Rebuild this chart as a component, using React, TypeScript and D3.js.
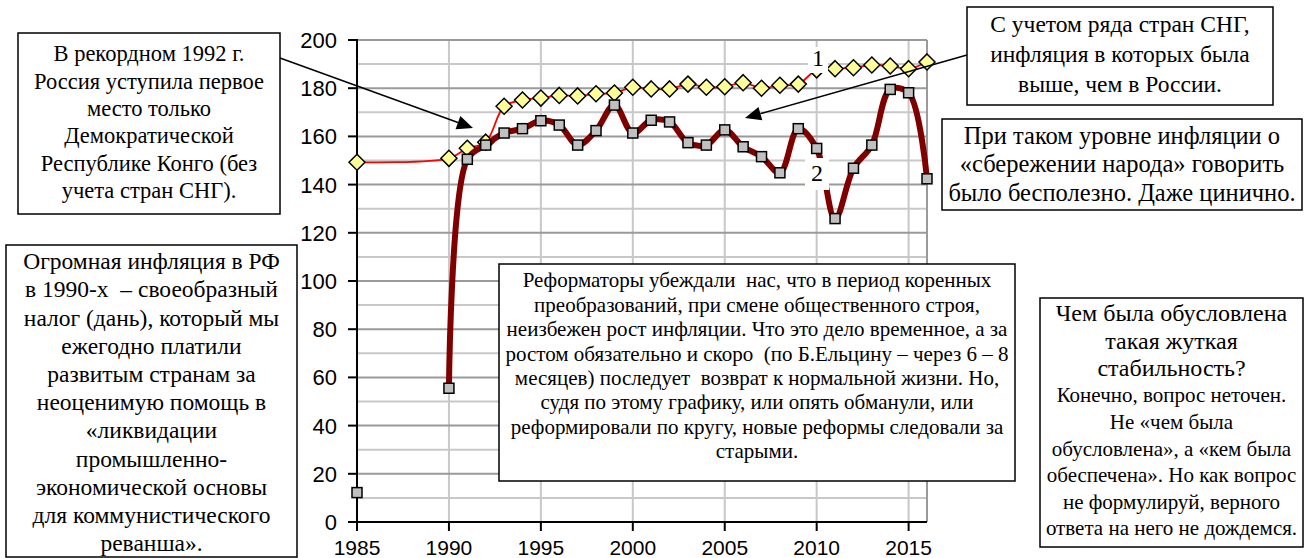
import React from 'react';
import * as d3 from 'd3';

// years on the x axis
const years1 = [1985, 1990, 1991, 1992, 1993, 1994, 1995, 1996, 1997, 1998, 1999, 2000, 2001, 2002, 2003, 2004, 2005, 2006, 2007, 2008, 2009, 2010, 2011, 2012, 2013, 2014, 2015, 2016];
// series 1 - place of Russia incl. CIS countries (yellow diamonds)
const series1 = [149.3, 150.9, 155.1, 157.6, 172.5, 175.1, 175.9, 177, 176.8, 177.7, 178, 180.4, 179.7, 179.7, 181.7, 180.4, 180.6, 182.3, 180, 181.2, 181.7, 187.6, 188.1, 188.5, 189.6, 189.2, 188.1, 190.9];
// series 2 - Russia (grey squares)
const years2 = years1;
const series2 = [12.2, 55.5, 150.5, 156.4, 161.4, 163.2, 166.5, 164.7, 156.4, 162.4, 173, 161.4, 166.7, 166, 157.4, 156.4, 162.7, 155.7, 151.6, 144.9, 163.2, 155, 125.9, 146.8, 156.4, 179.5, 178.1, 142.4];

const yTicks = [0, 20, 40, 60, 80, 100, 120, 140, 160, 180, 200];
const xTicks = [1985, 1990, 1995, 2000, 2005, 2010, 2015];

const noteA = ['В рекордном 1992 г.', 'Россия уступила первое', 'место только', 'Демократической', 'Республике Конго (без', 'учета стран СНГ).'];
const noteB = ['С учетом ряда стран СНГ,', 'инфляция в которых была', 'выше, чем в России.'];
const noteC = ['При таком уровне инфляции о', '«сбережении народа» говорить', 'было бесполезно. Даже цинично.'];
const noteD = [
  'Реформаторы убеждали  нас, что в период коренных',
  'преобразований, при смене общественного строя,',
  'неизбежен рост инфляции. Что это дело временное, а за',
  'ростом обязательно и скоро  (по Б.Ельцину – через 6 – 8',
  'месяцев) последует  возврат к нормальной жизни. Но,',
  'судя по этому графику, или опять обманули, или',
  'реформировали по кругу, новые реформы следовали за',
  'старыми.',
];
const noteE = ['Огромная инфляция в РФ', 'в 1990-х  – своеобразный', 'налог (дань), который мы', 'ежегодно платили', 'развитым странам за', 'неоценимую помощь в', '«ликвидации', 'промышленно-', 'экономической основы', 'для коммунистического', 'реванша».'];
const noteF1 = ['Чем была обусловлена', 'такая жуткая', 'стабильность?'];
const noteF2 = ['Конечно, вопрос неточен.', 'Не «чем была', 'обусловлена», а «кем была', 'обеспечена». Но как вопрос', 'не формулируй, верного', 'ответа на него не дождемся.'];

const W = 1305;
const H = 558;
const serif = "'Liberation Serif', 'Times New Roman', Times, Tinos, 'Noto Serif', 'DejaVu Serif', serif";
const sans = "'Liberation Sans', Arial, sans-serif";

const x = d3.scaleLinear().domain([1985, 2016]).range([357, 927]);
const y = d3.scaleLinear().domain([0, 200]).range([522, 40]);

type Line = { text: string; size: number; cy: number };

function Box({ bx, by, bw, bh, lines }: { bx: number; by: number; bw: number; bh: number; lines: Line[] }) {
  const cx = bx + bw / 2;
  return (
    <g>
      <rect x={bx} y={by} width={bw} height={bh} fill="#fff" stroke="#000" strokeWidth={1.5} />
      {lines.map((l, i) => (
        <text key={i} x={cx} y={l.cy + l.size * 0.35} textAnchor="middle" style={{ whiteSpace: 'pre', fontFamily: serif, fontSize: l.size }}>
          {l.text}
        </text>
      ))}
    </g>
  );
}

const stack = (arr: string[], first: number, step: number, size: number): Line[] =>
  arr.map((t, i) => ({ text: t, size, cy: first + i * step }));

function Arrow({ x1, y1, x2, y2 }: { x1: number; y1: number; x2: number; y2: number }) {
  const a = Math.atan2(y2 - y1, x2 - x1);
  const len = 16, half = 7;
  const bx = x2 - len * Math.cos(a), by = y2 - len * Math.sin(a);
  const p = [
    [x2, y2],
    [bx + half * Math.sin(a), by - half * Math.cos(a)],
    [bx - half * Math.sin(a), by + half * Math.cos(a)],
  ];
  return (
    <g>
      <line x1={x1} y1={y1} x2={bx} y2={by} stroke="#000" strokeWidth={1.5} />
      <polygon points={p.map((d) => d.join(',')).join(' ')} fill="#000" />
    </g>
  );
}

export default function App() {
  const line = d3.line<[number, number]>().x((d) => x(d[0])).y((d) => y(d[1])).curve(d3.curveCatmullRom.alpha(0.5));
  const pts1: [number, number][] = years1.map((yr, i) => [yr, series1[i]]);
  const pts2: [number, number][] = years2.map((yr, i) => [yr, series2[i]]);
  const path1 = line(pts1) || '';
  const path2 = line(pts2.filter((d) => d[0] >= 1990)) || '';

  const minor = d3.range(10, 200, 20);
  const vGrid = xTicks.slice(1);

  return (
    <svg width={W} height={H} style={{ position: 'absolute', left: 0, top: 0, background: '#fff' }}>
      {/* grid */}
      {minor.map((v) => (
        <line key={'m' + v} x1={x(1985)} x2={x(2016)} y1={y(v)} y2={y(v)} stroke="#c8c8c8" strokeWidth={2} />
      ))}
      {vGrid.map((v) => (
        <line key={'v' + v} x1={x(v)} x2={x(v)} y1={y(200)} y2={y(0)} stroke="#c8c8c8" strokeWidth={2} />
      ))}
      {yTicks.slice(1).map((v) => (
        <line key={'g' + v} x1={x(1985)} x2={x(2016)} y1={y(v)} y2={y(v)} stroke="#9a9a9a" strokeWidth={2} />
      ))}
      <line x1={x(2016)} x2={x(2016)} y1={y(200)} y2={y(0)} stroke="#9a9a9a" strokeWidth={2} />

      {/* axes */}
      <line x1={x(1985)} x2={x(1985)} y1={y(200) - 1} y2={y(0) + 1} stroke="#000" strokeWidth={2} />
      <line x1={x(1985) - 1} x2={x(2016)} y1={y(0)} y2={y(0)} stroke="#000" strokeWidth={2} />
      {yTicks.map((v) => (
        <g key={'yt' + v}>
          <line x1={x(1985) - 9} x2={x(1985)} y1={y(v)} y2={y(v)} stroke="#000" strokeWidth={2} />
          <text x={337} y={y(v) + 8} textAnchor="end" style={{ fontFamily: sans, fontSize: 22 }}>{v}</text>
        </g>
      ))}
      {xTicks.map((v) => (
        <g key={'xt' + v}>
          <line x1={x(v)} x2={x(v)} y1={y(0)} y2={y(0) + 9} stroke="#000" strokeWidth={2} />
          <text x={x(v)} y={555} textAnchor="middle" style={{ fontFamily: sans, fontSize: 21 }}>{v}</text>
        </g>
      ))}

      {/* series 1 */}
      <path d={path1} fill="none" stroke="#ff0000" strokeWidth={1.8} />
      {pts1.map((d, i) => {
        const cx = x(d[0]), cy = y(d[1]), r = 8;
        return <polygon key={'d' + i} points={`${cx},${cy - r} ${cx + r},${cy} ${cx},${cy + r} ${cx - r},${cy}`} fill="#ffff99" stroke="#000" strokeWidth={1.5} />;
      })}

      {/* series 2 */}
      <path d={path2} fill="none" stroke="#800000" strokeWidth={6} strokeLinejoin="round" />
      {pts2.map((d, i) => {
        const cx = x(d[0]), cy = y(d[1]), s = 10;
        return <rect key={'s' + i} x={cx - s / 2} y={cy - s / 2} width={s} height={s} fill="#c0c0c0" stroke="#000" strokeWidth={1.5} />;
      })}

      {/* series labels */}
      <rect x={808} y={47} width={20} height={26} fill="#fff" />
      <text x={818} y={66} textAnchor="middle" style={{ fontFamily: serif, fontSize: 24 }}>1</text>
      <rect x={805} y={158} width={24} height={32} fill="#fff" />
      <text x={817} y={181} textAnchor="middle" style={{ fontFamily: serif, fontSize: 24 }}>2</text>

      {/* annotations */}
      <Box bx={18} by={33} bw={262} bh={181} lines={stack(noteA, 53.3, 27.4, 22.5)} />
      <Arrow x1={280} y1={58} x2={473} y2={128} />
      <Box bx={967} by={7} bw={306} bh={98} lines={stack(noteB, 24, 30, 23.5)} />
      <Arrow x1={967} y1={55} x2={745} y2={118} />
      <Box bx={942} by={119} bw={360} bh={91} lines={stack(noteC, 135, 28.5, 24.5)} />
      <Box bx={499} by={264} bw={516} bh={217} lines={stack(noteD, 280, 24.4, 21)} />
      <Box bx={6} by={245} bw={291} bh={312} lines={stack(noteE, 261, 28.2, 23.5)} />
      <Box bx={1040} by={298} bw={263} bh={249} lines={[...stack(noteF1, 313, 27.5, 24), ...stack(noteF2, 395, 26.6, 21)]} />
    </svg>
  );
}
